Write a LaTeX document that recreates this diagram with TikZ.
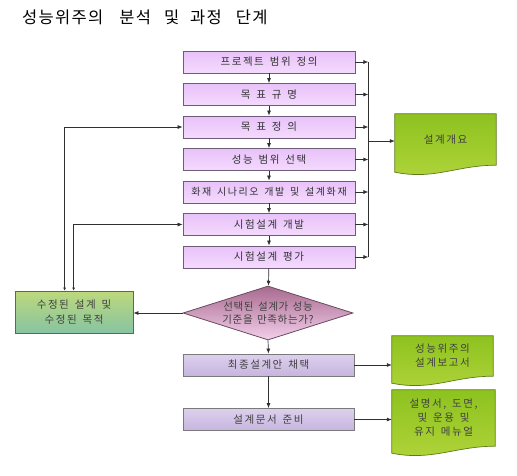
\documentclass[tikz,border=0pt]{standalone}
\usepackage{fontspec}
\setmainfont{Noto Sans CJK KR}[LetterSpace=15, WordSpace=1.5]
\newfontfamily\titlefont{Noto Sans CJK KR}[LetterSpace=8]
\usetikzlibrary{arrows.meta,shapes.geometric,calc,backgrounds}
\definecolor{ptop}{HTML}{E8C2F9}
\definecolor{pmid}{HTML}{D8A2F2}
\definecolor{pbot}{HTML}{F4DAFD}
\definecolor{pborder}{HTML}{6E5C7A}
\definecolor{ltop}{HTML}{DDD0EE}
\definecolor{lbot}{HTML}{C6B5DE}
\definecolor{lborder}{HTML}{7A7A7A}
\definecolor{dtop}{HTML}{A86A8E}
\definecolor{dmid}{HTML}{E6B2D8}
\definecolor{dbot}{HTML}{F3CFEB}
\definecolor{dborder}{HTML}{6A4A5E}
\definecolor{gtop}{HTML}{BCD97C}
\definecolor{gmid}{HTML}{E3E853}
\definecolor{gbot}{HTML}{88C3A2}
\definecolor{gborder}{HTML}{5A6A5A}
\definecolor{doctop}{HTML}{8DC21F}
\definecolor{docmid}{HTML}{DDE85E}
\definecolor{docbot}{HTML}{B0D43A}
\definecolor{docborder}{HTML}{5E7A1E}
\definecolor{linecol}{HTML}{303030}
\newcommand{\docshape}[1]{%
  \shade[top color=doctop, middle color=docmid, bottom color=docbot, draw=docborder, line width=0.7pt]
    (#1.north west) -- (#1.north east) -- (#1.south east)
    .. controls ($(#1.south east)+(-40,0)$) and ($(#1.south west)+(40,15)$) .. ($(#1.south west)+(0,7)$)
    -- cycle;}
\begin{document}
\begin{tikzpicture}[x=1pt,y=-1pt,
  font=\fontsize{10.5}{12.5}\selectfont,
  pbox/.style={draw=pborder, line width=0.8pt, top color=ptop, middle color=pmid, bottom color=pbot,
    minimum width=172pt, minimum height=22pt, inner sep=0pt, text=black!80},
  lbox/.style={draw=lborder, line width=0.8pt, top color=ltop, bottom color=lbot,
    minimum width=171pt, minimum height=22pt, inner sep=0pt, text=black!75},
  dia/.style={diamond, draw=dborder, line width=0.8pt, top color=dtop, middle color=dmid, bottom color=dbot,
    aspect=3.15, inner xsep=-12pt, inner ysep=-5pt, minimum width=170pt, minimum height=54pt, align=center, text=black!75,
    font=\fontsize{10.5}{13}\selectfont\addfontfeature{LetterSpace=6}},
  gbox/.style={draw=gborder, line width=0.8pt, top color=gtop, middle color=gmid, bottom color=gbot,
    minimum width=118pt, minimum height=42pt, inner sep=0pt, align=center, text=black!75,
    font=\fontsize{10.5}{15}\selectfont},
  docnode/.style={inner sep=0pt, align=center, text=black!75, font=\fontsize{10.5}{14}\selectfont},
  conn/.style={draw=linecol, line width=0.7pt},
  arr/.style={conn, -{Latex[length=5pt,width=4pt]}},
  darr/.style={conn, {Latex[length=3pt,width=3pt]}-{Latex[length=5pt,width=4pt]}}
]
\useasboundingbox (0,0) rectangle (517,475);

\node[anchor=west, inner sep=0pt, font=\titlefont\fontsize{16.5}{18}\selectfont] (title) at (22,17) {성능위주의\hspace{16pt}분석\hspace{13pt}및\hspace{11pt}과정\hspace{14pt}단계};

\node[pbox] (b1) at (269,62) {프로젝트 범위 정의};
\node[pbox] (b2) at (269,94.5) {목 표 규 명};
\node[pbox] (b3) at (269,127) {목 표 정 의};
\node[pbox] (b4) at (269,159.5) {성능 범위 선택};
\node[pbox, font=\fontsize{10}{12}\selectfont\addfontfeature{LetterSpace=16}] (b5) at (269,192) {화재 시나리오 개발 및 설계화재};
\node[pbox] (b6) at (269,224.5) {시험설계 개발};
\node[pbox] (b7) at (269,257) {시험설계 평가};

\draw[arr] (b1) -- (b2);
\draw[arr] (b2) -- (b3);
\draw[arr] (b3) -- (b4);
\draw[arr] (b4) -- (b5);
\draw[arr] (b5) -- (b6);
\draw[arr] (b6) -- (b7);

% collector on the right
\foreach \i in {1,...,7} {
  \coordinate (c\i) at ($(b\i.east)+(13,0)$);
  \draw[arr] (b\i.east) -- (c\i);
}
\draw[conn] (c1) -- (c7);

\node[docnode, minimum width=101pt, minimum height=51pt] (d1) at (445.5,139.5) {설계개요};
\coordinate (cm) at (368,141);
\draw[arr] (cm) -- (cm -| d1.west);

% decision
\node[dia] (dm) at (268,313) {선택된 설계가 성능\\기준을 만족하는가?};
\draw[arr] (b7) -- (dm);

\node[gbox] (g) at (74,312) {수정된 설계 및\\수정된 목적};
\draw[arr] (dm.west) -- (dm.west -| g.east);

\draw[darr] ($(g.north west)+(50,0)$) |- (b3.west);
\draw[darr] ($(g.north west)+(59,0)$) |- (b6.west);

% lower part
\node[lbox] (f1) at (268.5,365) {최종설계안 채택};
\node[lbox] (f2) at (268.5,419.5) {설계문서 준비};
\draw[arr] (dm.south) -- (f1.north);
\draw[arr] (f1.south) -- (f2.north);

\node[docnode, minimum width=101pt, minimum height=40pt] (d2) at (442.5,356) {성능위주의\\설계보고서};
\node[docnode, minimum width=103pt, minimum height=56pt] (d3) at (443.5,418) {설명서, 도면,\\및 운용 및\\유지 메뉴얼};
\draw[arr] (f1.east) -- (f1.east -| d2.west);
\draw[arr] (f2.east) -- (f2.east -| d3.west);

\begin{scope}[on background layer]
  \docshape{d1}
  \docshape{d2}
  \docshape{d3}
\end{scope}
\end{tikzpicture}
\end{document}
